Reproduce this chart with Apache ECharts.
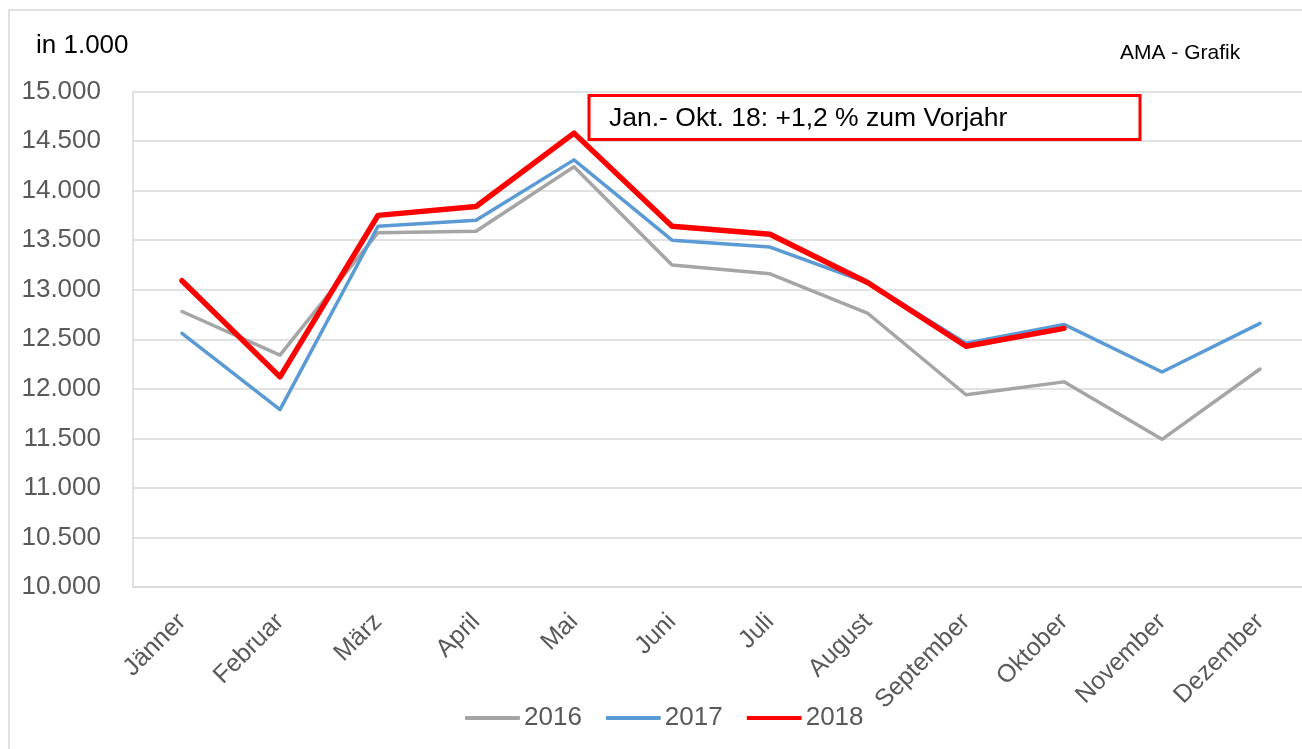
<!DOCTYPE html>
<html>
<head>
<meta charset="utf-8">
<script src="https://cdn.jsdelivr.net/npm/echarts@6/dist/echarts.min.js"></script>
<style>
  html, body { margin: 0; padding: 0; background: #fff; }
  #chart { width: 1302px; height: 749px; }
</style>
</head>
<body>
<div id="chart"></div>
<script>
var months = ['Jänner', 'Februar', 'März', 'April', 'Mai', 'Juni', 'Juli', 'August', 'September', 'Oktober', 'November', 'Dezember']
var years = ['2016', '2017', '2018']
var values2016 = [12780, 12340, 13575, 13590, 14240, 13250, 13160, 12760, 11940, 12070, 11490, 12200]
var values2017 = [12560, 11790, 13640, 13700, 14310, 13500, 13430, 13070, 12460, 12650, 12170, 12660]
var values2018 = [13090, 12120, 13750, 13840, 14580, 13640, 13560, 13070, 12430, 12610, null, null]
var note = 'Jan.- Okt. 18: +1,2 % zum Vorjahr'

var font = 'Liberation Sans, Arial, sans-serif'

function fmt(v) {
  return String(v).replace(/\B(?=(\d{3})+(?!\d))/g, '.')
}

function line(name, data, color, width) {
  return {
    name: name,
    type: 'line',
    data: data,
    symbol: 'none',
    connectNulls: false,
    lineStyle: { color: color, width: width, join: 'round', cap: 'round' },
    itemStyle: { color: color },
  }
}

var chart = echarts.init(document.getElementById('chart'))
chart.setOption({
  backgroundColor: '#fff',
  animation: false,
  textStyle: { fontFamily: font },
  grid: { left: 133, right: -7, top: 91.5, bottom: 162, outerBoundsMode: 'none' },
  legend: {
    data: [
      { name: '2016', itemStyle: { color: '#a5a5a5' } },
      { name: '2017', itemStyle: { color: '#5b9bd5' } },
      { name: '2018', itemStyle: { color: '#ff0000' } },
    ],
    icon: 'roundRect',
    left: 460,
    top: 700,
    itemWidth: 55,
    itemHeight: 4,
    itemGap: 24,
    textStyle: { fontSize: 26, color: '#595959', fontFamily: font, padding: [0, 0, 0, -1] },
  },
  xAxis: {
    type: 'category',
    data: months,
    boundaryGap: true,
    axisLine: { lineStyle: { color: '#d9d9d9', width: 1.5 } },
    axisTick: { show: false },
    axisLabel: {
      rotate: 45,
      margin: 31,
      interval: 0,
      fontSize: 25,
      color: '#595959',
      fontFamily: font,
    },
  },
  yAxis: {
    type: 'value',
    min: 10000,
    max: 15000,
    interval: 500,
    axisLine: { show: true, lineStyle: { color: '#d9d9d9', width: 1.5 } },
    axisTick: { show: false },
    splitLine: { lineStyle: { color: '#d9d9d9', width: 1.5 } },
    axisLabel: {
      margin: 32,
      fontSize: 26,
      color: '#595959',
      fontFamily: font,
      formatter: fmt,
    },
  },
  graphic: [
    {
      type: 'rect',
      silent: true,
      shape: { x: 9, y: 10, width: 1400, height: 800 },
      style: { fill: 'none', stroke: '#d9d9d9', lineWidth: 1.5 },
    },
    {
      type: 'text',
      left: 36,
      top: 33,
      style: { text: 'in 1.000', fontSize: 26, fill: '#000', fontFamily: font },
    },
    {
      type: 'text',
      left: 1120,
      top: 43,
      style: { text: 'AMA - Grafik', fontSize: 21, fill: '#000', fontFamily: font },
    },
    {
      type: 'rect',
      z: 100,
      shape: { x: 589, y: 95.5, width: 551, height: 44 },
      style: { fill: '#fff', stroke: '#ff0000', lineWidth: 3 },
    },
    {
      type: 'text',
      z: 101,
      left: 609,
      top: 105,
      style: { text: note, fontSize: 26.5, fill: '#000', fontFamily: font },
    },
  ],
  series: [
    line('2016', values2016, '#a5a5a5', 3.5),
    line('2017', values2017, '#5b9bd5', 3.5),
    line('2018', values2018, '#ff0000', 5.5),
  ],
})
</script>
</body>
</html>
